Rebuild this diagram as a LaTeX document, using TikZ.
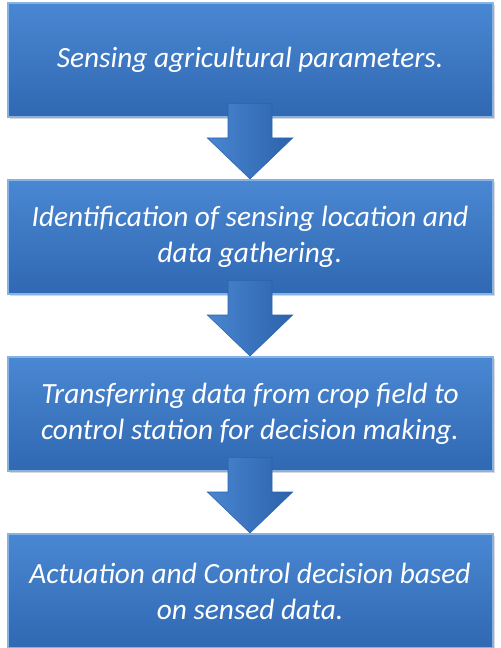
\documentclass[tikz,border=0pt]{standalone}
\usepackage{fontspec}
\setmainfont{Carlito}
\usepackage{tikz}
\usetikzlibrary{
  positioning,
  calc,
  shadows
}
\definecolor{boxtop}{HTML}{4A87D2}
\definecolor{boxbot}{HTML}{3068B2}
\definecolor{edgeblue}{HTML}{86B2E4}
\definecolor{arrowlight}{HTML}{4A86D0}
\definecolor{arrowdark}{HTML}{2C62AC}
\tikzset{
  stage/.style={
    rectangle,
    draw=edgeblue,
    line width=1.5pt,
    top color=boxtop,
    bottom color=boxbot,
    align=center,
    text=white,
    minimum width=363.75pt,
    minimum height=85.5pt,
    font=\fontsize{22}{27}\selectfont\itshape,
    drop shadow={opacity=0.3,shadow xshift=1.5pt,shadow yshift=-1.5pt}
  },
  flowarrow/.style={
    left color=arrowlight,
    right color=arrowdark,
    draw=arrowdark,
    line width=0.4pt
  }
}

\begin{document}
\begin{tikzpicture}[node distance=45.75pt]
\useasboundingbox (0,0) rectangle (375pt,-486pt);
% process stages
\node[stage,anchor=north] (b1) at (187.5pt,-1.5pt) {Sensing agricultural parameters.};
\node[stage,below=of b1] (b2) {Identification of sensing location and\\data gathering.};
\node[stage,below=of b2] (b3) {Transferring data from crop field to\\control station for decision making.};
\node[stage,below=of b3] (b4) {Actuation and Control decision based\\on sensed data.};

% block arrows between stages
\foreach \a/\b in {b1/b2,b2/b3,b3/b4}
  \draw[flowarrow] ($(\a.south)+(-16.5pt,11pt)$) -- ($(\a.south)+(-16.5pt,-15pt)$)
    -- ($(\a.south)+(-32pt,-15pt)$) -- (\b.north) -- ($(\a.south)+(32pt,-15pt)$)
    -- ($(\a.south)+(16.5pt,-15pt)$) -- ($(\a.south)+(16.5pt,11pt)$) -- cycle;
\end{tikzpicture}
\end{document}
